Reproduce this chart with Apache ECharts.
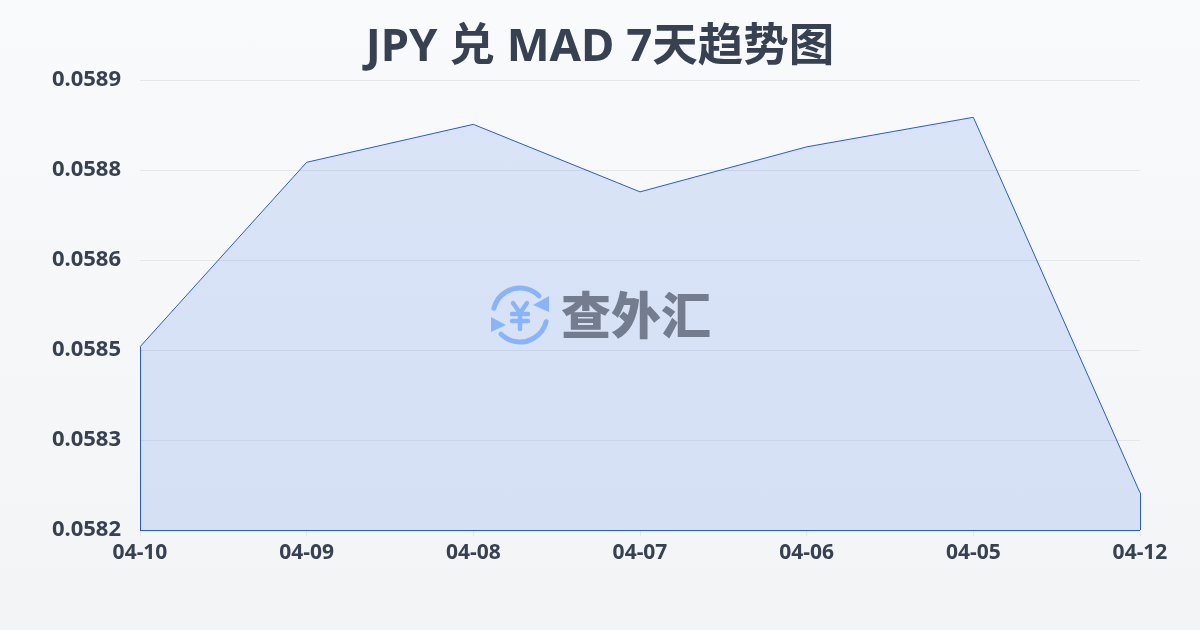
<!DOCTYPE html>
<html>
<head>
<meta charset="utf-8">
<style>
html,body{margin:0;padding:0;width:1200px;height:630px;overflow:hidden;background:linear-gradient(180deg,#f9fafb 0%,#f3f4f6 100%);}
#c{width:1200px;height:630px;}
</style>
<script src="https://cdn.jsdelivr.net/npm/echarts@6/dist/echarts.min.js"></script>
</head>
<body>
<div id="c"></div>
<script>
const categories = ['04-10','04-09','04-08','04-07','04-06','04-05','04-12'];
const rates = [0.058485,0.058772,0.058831,0.058726,0.058796,0.058842,0.058258];
const yTicks = [0.0582,0.05834,0.05848,0.05862,0.05876,0.0589];
const titleText = 'JPY 兑 MAD 7天趋势图';
const brandText = '查外汇';

const FONT = '"Noto Sans","Noto Sans CJK SC",sans-serif';
const INK = '#374151';
const LINE = '#2a5bc8';
const LOGO = '#8ab4f8';
const yMin = yTicks[0], yMax = yTicks[yTicks.length-1];
const first = categories[0], last = categories[categories.length-1];
const logoLine = {stroke:LOGO,lineWidth:4.5,lineCap:'round',lineJoin:'round',fill:null};

const chart = echarts.init(document.getElementById('c'), null, {renderer:'canvas'});
chart.setOption({
  backgroundColor:'transparent',
  animation:false,
  title:{text:titleText,left:'center',top:20,textStyle:{fontFamily:FONT,fontSize:45.5,fontWeight:'bold',color:INK}},
  grid:{left:140,right:60,top:80,bottom:100},
  xAxis:{
    type:'category',data:categories,boundaryGap:false,
    axisLine:{show:false},
    axisTick:{show:true,length:6,lineStyle:{color:'#e5e7eb',width:1}},
    axisLabel:{fontFamily:FONT,fontSize:21,fontWeight:'bold',color:INK,margin:13,showMinLabel:true,showMaxLabel:true,interval:0},
    splitLine:{show:false}
  },
  yAxis:{
    type:'value',min:yMin,max:yMax,
    axisLine:{show:false},
    axisTick:{show:false,customValues:yTicks},
    axisLabel:{customValues:yTicks,fontFamily:FONT,fontSize:22,fontWeight:'bold',color:INK,margin:19,formatter:v=>Number(v).toFixed(4)},
    splitLine:{show:true,lineStyle:{color:'#e5e7eb',width:1}}
  },
  series:[{
    type:'line',data:rates,symbol:'none',smooth:false,
    lineStyle:{color:LINE,width:1},
    areaStyle:{color:'rgba(37,99,235,0.14)',opacity:1,origin:'start'},
    markLine:{
      silent:true,symbol:'none',animation:false,label:{show:false},
      lineStyle:{color:LINE,width:1,type:'solid'},
      data:[
        [{xAxis:first,yAxis:yMin},{xAxis:first,yAxis:rates[0]}],
        [{xAxis:last,yAxis:yMin},{xAxis:last,yAxis:rates[rates.length-1]}],
        [{xAxis:first,yAxis:yMin},{xAxis:last,yAxis:yMin}]
      ]
    }
  }],
  graphic:[
    {type:'arc',z:100,silent:true,shape:{cx:520,cy:315,r:27,startAngle:Math.PI*1.08,endAngle:Math.PI*1.75,clockwise:true},style:{...logoLine,lineWidth:5}},
    {type:'arc',z:100,silent:true,shape:{cx:520,cy:315,r:27,startAngle:Math.PI*0.08,endAngle:Math.PI*0.75,clockwise:true},style:{...logoLine,lineWidth:5}},
    {type:'polygon',z:100,silent:true,shape:{points:[[549,296],[549,312],[533,305]]},style:{fill:LOGO}},
    {type:'polygon',z:100,silent:true,shape:{points:[[491,317],[491,332],[506,325]]},style:{fill:LOGO}},
    {type:'polyline',z:100,silent:true,shape:{points:[[513,303],[520,313],[527,303]]},style:logoLine},
    {type:'line',z:100,silent:true,shape:{x1:520,y1:313,x2:520,y2:329},style:logoLine},
    {type:'line',z:100,silent:true,shape:{x1:512,y1:314,x2:528,y2:314},style:logoLine},
    {type:'line',z:100,silent:true,shape:{x1:512,y1:321,x2:528,y2:321},style:logoLine},
    {type:'text',z:100,silent:true,x:636,y:315,style:{text:brandText,x:0,y:0,align:'center',verticalAlign:'middle',font:'900 50px "Noto Sans CJK SC",sans-serif',fill:'#737d8f'}}
  ]
});
</script>
</body>
</html>
